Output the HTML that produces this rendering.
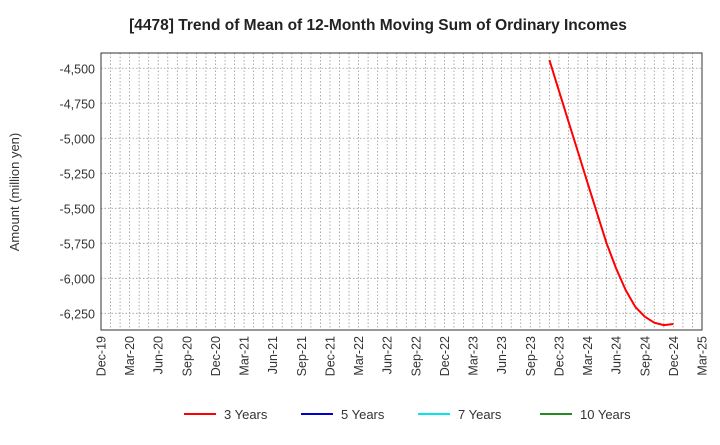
<!DOCTYPE html>
<html><head><meta charset="utf-8"><style>
body{margin:0;background:#fff;font-family:"Liberation Sans",Arial,sans-serif;}
</style></head><body>
<svg width="720" height="440" xmlns="http://www.w3.org/2000/svg" font-family="Liberation Sans, Arial, sans-serif">
<text x="378" y="30" text-anchor="middle" font-size="15.5" font-weight="bold" fill="#222">[4478]  Trend of Mean of 12-Month Moving Sum of Ordinary Incomes</text>
<g id="grid"></g>
<g id="axes"></g>
<path id="s3" fill="none" stroke="#ff0000" stroke-width="2" stroke-linejoin="round"/>
<text transform="translate(19,192) rotate(-90)" text-anchor="middle" font-size="13" fill="#333">Amount (million yen)</text>
<g id="legend"></g>
</svg>
<script>
const quarterLabels=["Dec-19","Mar-20","Jun-20","Sep-20","Dec-20","Mar-21","Jun-21","Sep-21","Dec-21","Mar-22","Jun-22","Sep-22","Dec-22","Mar-23","Jun-23","Sep-23","Dec-23","Mar-24","Jun-24","Sep-24","Dec-24","Mar-25"];
const yTicks=[-4500,-4750,-5000,-5250,-5500,-5750,-6000,-6250];
const series3Start=47; // month index from Dec-19 (Nov-23)
const series3=[-4441,-4660,-4879,-5098,-5317,-5536,-5750,-5929,-6084,-6203,-6274,-6317,-6334,-6326];
const legendLabels=["3 Years","5 Years","7 Years","10 Years"];
const legendColors=["#ff0000","#0000cc","#00e5ee","#228b22"];
const L=101,R=702,T=53,B=330,yMax=-4391,yMin=-6369,months=63;
const ns="http://www.w3.org/2000/svg";
const X=m=>L+(R-L)*m/months;
const Y=v=>T+(B-T)*(yMax-v)/(yMax-yMin);
function mk(tag,attrs,parent){const e=document.createElementNS(ns,tag);for(const k in attrs)e.setAttribute(k,attrs[k]);parent.appendChild(e);return e;}
const grid=document.getElementById('grid'),axes=document.getElementById('axes');
for(let m=1;m<months;m++){const l=mk('line',{x1:X(m),x2:X(m),y1:T,y2:B,stroke:'#999','stroke-width':0.8,'stroke-dasharray':'1.5,2'},grid);

}
yTicks.forEach(v=>{const l=mk('line',{x1:L,x2:R,y1:Y(v),y2:Y(v),stroke:'#999','stroke-width':0.8,'stroke-dasharray':'1.5,2'},grid);


const t=mk('text',{x:L-6,y:Y(v)+5,'text-anchor':'end','font-size':12.5,fill:'#333'},axes);


t.textContent=v.toLocaleString('en-US');});
quarterLabels.forEach((s,i)=>{const x=X(i*3);const t=mk('text',{transform:`translate(${x+4.5},${B+6}) rotate(-90)`,'text-anchor':'end','font-size':12.5,fill:'#333'},axes);


t.textContent=s;});
const frame=mk('rect',{x:L,y:T,width:R-L,height:B-T,fill:'none',stroke:'#333','stroke-width':1},axes);


document.getElementById('s3').setAttribute('d',series3.map((v,i)=>(i?'L':'M')+X(series3Start+i).toFixed(1)+','+Y(v).toFixed(1)).join(' '));
const lg=document.getElementById('legend');const lx=[184,301,418,540];
legendLabels.forEach((s,i)=>{const l=mk('line',{x1:lx[i],x2:lx[i]+32,y1:414,y2:414,stroke:legendColors[i],'stroke-width':2},lg);


const t=mk('text',{x:lx[i]+40,y:419,'font-size':13,fill:'#333'},lg);


t.textContent=s;});
</script>
</body></html>
